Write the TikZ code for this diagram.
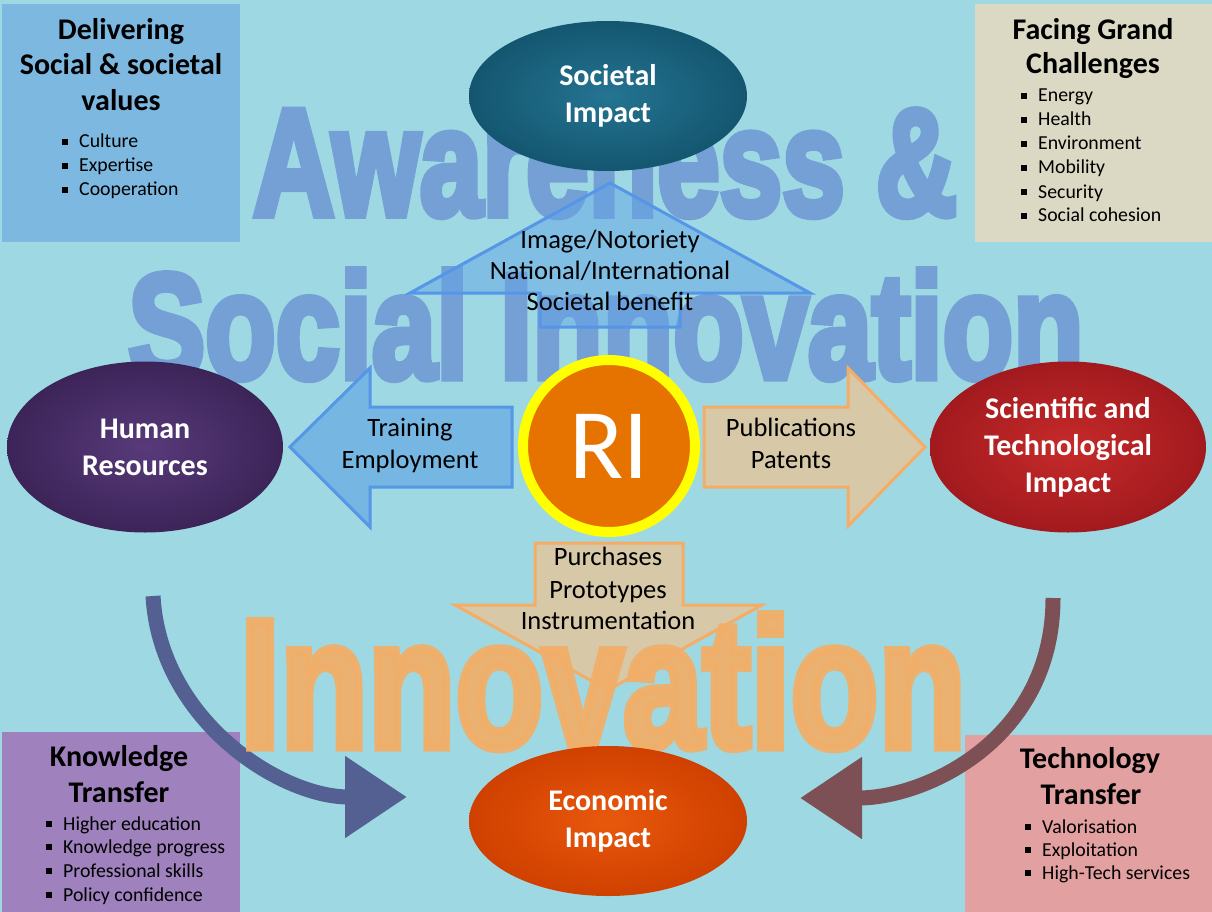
\documentclass[tikz,border=0pt]{standalone}
\usepackage{fontspec}
\setmainfont{Carlito}
\newfontfamily\impactfont[BoldFeatures={FakeBold=5}]{Liberation Sans}
\usetikzlibrary{arrows.meta,shapes.geometric}
\definecolor{bgc}{RGB}{158,217,227}
\definecolor{tlc}{RGB}{125,184,224}
\definecolor{trc}{RGB}{219,216,196}
\definecolor{blc}{RGB}{158,129,189}
\definecolor{brc}{RGB}{226,160,160}
\definecolor{awc}{RGB}{116,160,214}
\definecolor{inc}{RGB}{242,174,104}
\definecolor{upfill}{RGB}{100,165,228}
\definecolor{blueline}{RGB}{85,150,230}
\definecolor{leftfill}{RGB}{118,182,226}
\definecolor{tanfill}{RGB}{215,200,168}
\definecolor{orline}{RGB}{245,172,100}
\definecolor{socin}{RGB}{36,116,146}
\definecolor{socout}{RGB}{20,86,112}
\definecolor{humin}{RGB}{88,58,122}
\definecolor{humout}{RGB}{60,36,88}
\definecolor{sciin}{RGB}{198,42,42}
\definecolor{sciout}{RGB}{162,26,30}
\definecolor{ecoin}{RGB}{232,88,12}
\definecolor{ecoout}{RGB}{208,64,0}
\definecolor{riorange}{RGB}{230,115,0}
\definecolor{riyellow}{RGB}{255,255,0}
\definecolor{ktarrow}{RGB}{83,96,145}
\definecolor{ttarrow}{RGB}{125,80,85}
\newcommand\bsq{\llap{\raisebox{3pt}{\rule{6pt}{6pt}}\hspace{11pt}}}
\tikzset{
  panel/.style={inner sep=0pt, outer sep=0pt, draw=none, anchor=north west},
  ttl/.style={inner sep=0pt, anchor=base, font=\fontsize{30}{36}\selectfont\bfseries},
  bul/.style={inner sep=0pt, anchor=base west, font=\fontsize{19.8}{23}\selectfont},
  atxt/.style={inner sep=0pt, anchor=base, font=\fontsize{26.5}{31}\selectfont},
  bigtext/.style={inner sep=0pt, anchor=base west, text=#1},
  impact/.style n args={2}{ellipse, inner sep=0pt, minimum width=#1, minimum height=#2,
     text=white, align=center, font=\fontsize{30}{37}\selectfont\bfseries},
  fatblue/.style={fill=#1, draw=blueline, line width=3pt, line join=miter},
  fattan/.style={fill=tanfill, draw=orline, line width=3pt, line join=miter},
  curvy/.style={draw=#1, line width=15pt, -{Triangle[width=78pt,length=62pt]}}
}
\begin{document}
\begin{tikzpicture}[x=1pt,y=-1pt]
\useasboundingbox (0,0) rectangle (1212,912);
\fill[bgc] (0,0) rectangle (1212,912);

% corner panels
\node[panel, fill=tlc, minimum width=238pt, minimum height=238pt] (dlv) at (2,4) {};
\node[panel, fill=trc, minimum width=237pt, minimum height=238pt] (fgc) at (975,4) {};
\node[panel, fill=blc, minimum width=238pt, minimum height=180pt] (kt) at (2,732) {};
\node[panel, fill=brc, minimum width=247pt, minimum height=177pt] (tt) at (965,735) {};

% panel titles
\node[ttl] (dlv1) at (121,40) {Delivering};
\node[ttl] (dlv2) at (121,75) {Social \& societal};
\node[ttl] (dlv3) at (121,111) {values};
\node[ttl] (fgc1) at (1093,40) {Facing Grand};
\node[ttl] (fgc2) at (1093,74) {Challenges};
\node[ttl] (kt1) at (119,766) {Knowledge};
\node[ttl] (kt2) at (119,802) {Transfer};
\node[ttl] (tt1) at (1090,768) {Technology};
\node[ttl] (tt2) at (1091,804) {Transfer};

% panel bullets
\foreach \t/\y [count=\i] in {Culture/148, Expertise/172, Cooperation/196}
  \node[bul] (dlvb\i) at (79,\y) {\bsq\t};
\foreach \t/\y [count=\i] in {Energy/102, Health/126, Environment/150, Mobility/174, Security/198, Social cohesion/222}
  \node[bul] (fgcb\i) at (1038,\y) {\bsq\t};
\foreach \t/\y [count=\i] in {Higher education/830, Knowledge progress/853, Professional skills/877, Policy confidence/901}
  \node[bul] (ktb\i) at (63,\y) {\bsq\t};
\foreach \t/\y [count=\i] in {Valorisation/833, Exploitation/856, High-Tech services/879}
  \node[bul] (ttb\i) at (1042,\y) {\bsq\t};

% big background words
\node[bigtext=awc] (aw) at (253,215) {\resizebox{704pt}{105pt}{\impactfont\bfseries Awareness \&}};
\node[bigtext=awc] (si) at (128,378) {\resizebox{955pt}{108pt}{\impactfont\bfseries Social Innovation}};

% up arrow
\filldraw[fatblue=upfill, fill opacity=0.5] (540,327) -- (540,293) -- (410,293) -- (610,183) -- (810,293) -- (680,293) -- (680,327) -- cycle;
\node[atxt] (up1) at (610,248) {Image/Notoriety};
\node[atxt] (up2) at (610,279) {National/International};
\node[atxt] (up3) at (610,310) {Societal benefit};

% ellipses
\node[impact={278pt}{150pt}, inner color=socin, outer color=socout] (soc) at (608,96) {Societal\\Impact};
\node[impact={276pt}{171pt}, inner color=humin, outer color=humout] (hum) at (145,447) {Human\\Resources};
\node[impact={276pt}{171pt}, inner color=sciin, outer color=sciout] (sci) at (1068,447) {Scientific and\\Technological\\Impact};

% side arrows
\filldraw[fatblue=leftfill] (512,407) -- (370,407) -- (370,368) -- (290,447) -- (370,527) -- (370,487) -- (512,487) -- cycle;
\node[atxt] (lt1) at (410,436) {Training};
\node[atxt] (lt2) at (410,468) {Employment};
\filldraw[fattan] (704,407) -- (848,407) -- (848,368) -- (925,447) -- (848,526) -- (848,487) -- (704,487) -- cycle;
\node[atxt] (rt1) at (791,436) {Publications};
\node[atxt] (rt2) at (791,468) {Patents};

% RI
\node[circle, fill=riorange, draw=riyellow, line width=10pt, minimum size=172pt, inner sep=0pt,
      text=white, font=\fontsize{100}{100}\selectfont] (ri) at (609,446) {RI};

% down arrow
\filldraw[fattan] (535,543) -- (683,543) -- (683,605) -- (762,605) -- (608,690) -- (455,605) -- (535,605) -- cycle;
\node[atxt] (dn1) at (608,565) {Purchases};
\node[atxt] (dn2) at (608,598) {Prototypes};
\node[atxt] (dn3) at (608,629) {Instrumentation};

% curved arrows
\coordinate (kts) at (153,596);
\coordinate (kte) at (407,797);
\coordinate (tts) at (1053,598);
\coordinate (tte) at (800,798);
\draw[curvy=ktarrow] (kts) .. controls (160,720) and (280,797) .. (kte);
\draw[curvy=ttarrow] (tts) .. controls (1053,740) and (925,798) .. (tte);

% Innovation word
\node[bigtext=inc, text opacity=0.92] (inn) at (240,747) {\resizebox{725pt}{132pt}{\impactfont\bfseries Innovation}};

% economic impact
\node[impact={278pt}{150pt}, inner color=ecoin, outer color=ecoout] (eco) at (608,821) {Economic\\Impact};
\end{tikzpicture}
\end{document}
